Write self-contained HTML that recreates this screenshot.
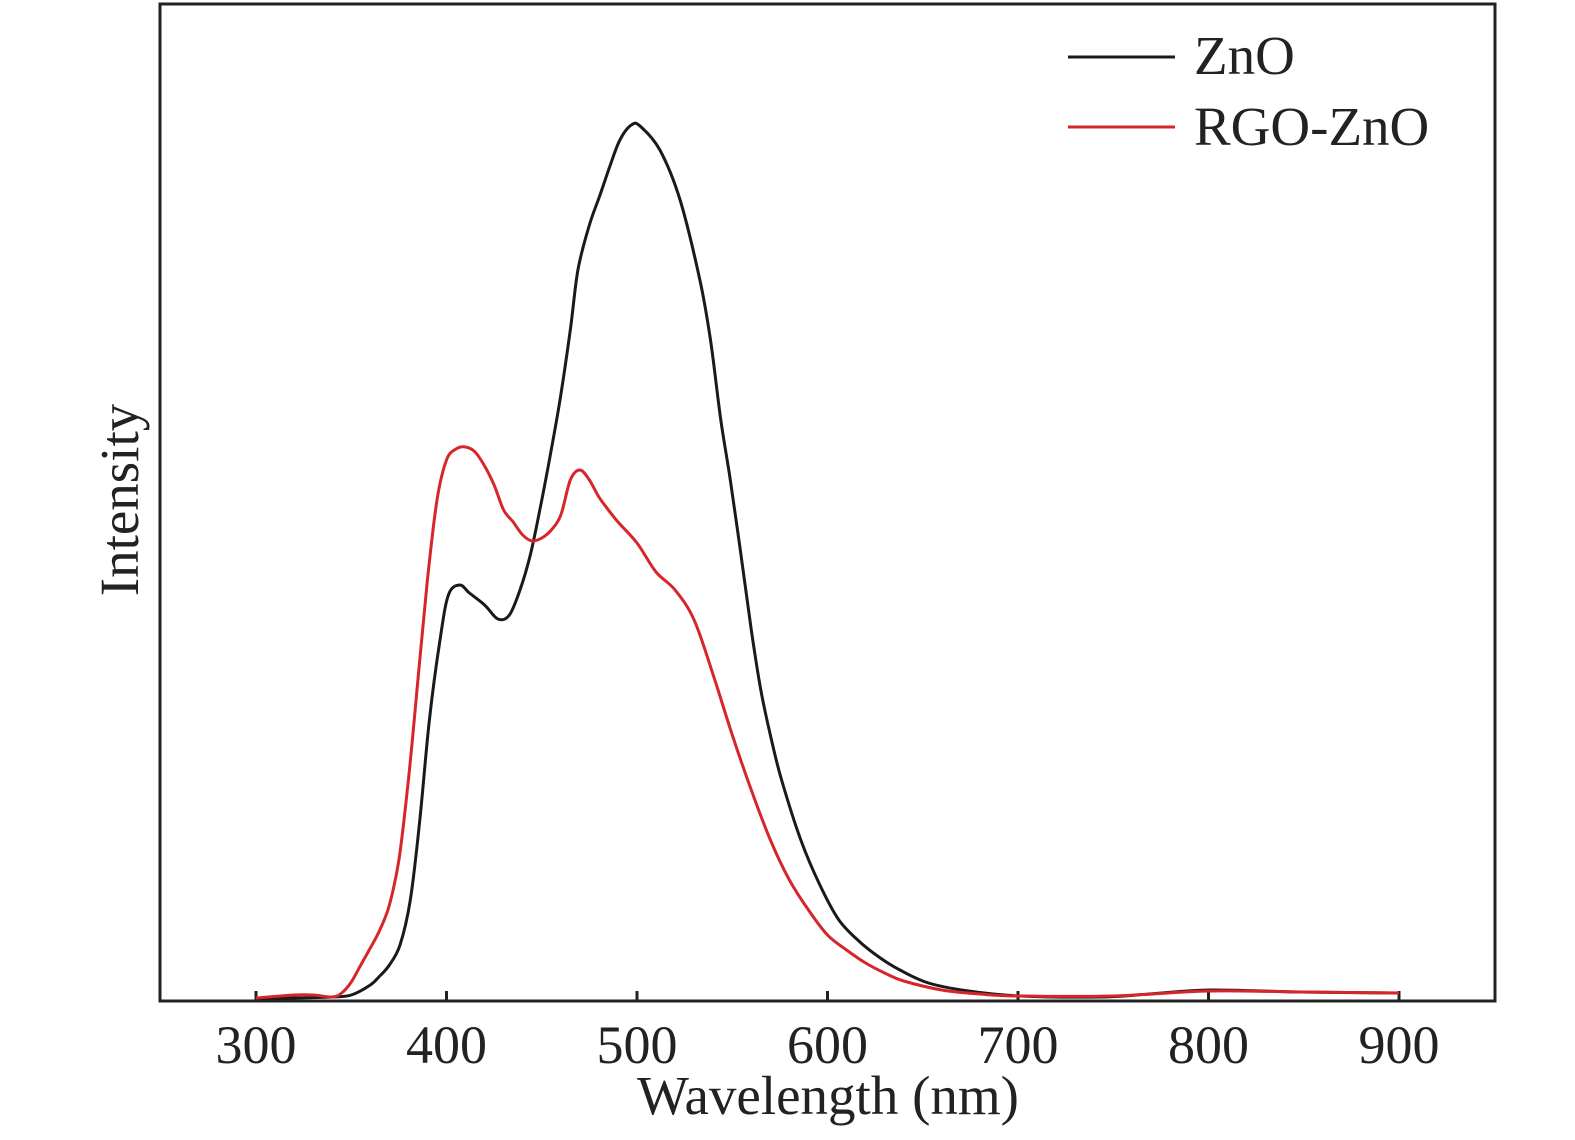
<!DOCTYPE html>
<html><head><meta charset="utf-8"><style>
html,body{margin:0;padding:0;background:#fff;}
svg{display:block;font-family:"Liberation Serif",serif;}
</style></head><body>
<svg id="chart" width="1575" height="1140" viewBox="0 0 1575 1140" xmlns="http://www.w3.org/2000/svg">
<rect x="160" y="4" width="1335" height="997" fill="none" stroke="#222" stroke-width="3"/>
<g id="ticks"></g>
<g id="series"></g>
<text x="828" y="1114" font-size="55" text-anchor="middle" fill="#222">Wavelength (nm)</text>
<text transform="translate(138,500) rotate(-90)" font-size="55" text-anchor="middle" fill="#222">Intensity</text>
<g>
<line x1="1068" y1="57" x2="1175" y2="57" stroke="#1a1a1a" stroke-width="3"/>
<text x="1194" y="74" font-size="55" fill="#222">ZnO</text>
<line x1="1068" y1="127" x2="1175" y2="127" stroke="#d7262b" stroke-width="3"/>
<text x="1194" y="145" font-size="55" fill="#222">RGO-ZnO</text>
</g>
</svg>
<script>
const xTicks=[300,400,500,600,700,800,900];
const znoWl=[300,320,340,350,360,365,370,375.6,381,386,391,396.6,401,407,412,420,427,433,438.6,444,449,454,459.6,465,469,475,480.6,486,491,497,501.6,512,522.6,533,538.6,544,549,554.6,560,565,570.6,575.9,586,596,606,617,627,638,653,674,701,743,769,801,848,900];
const znoVal=[0,0,0.1,0.3,1.3,2.2,3.3,5.3,9.8,17.8,27.8,35.8,40.3,41.3,40.5,39.3,37.9,38.3,40.8,44.3,48.8,53.8,59.8,66.8,72.8,77.3,80.3,83.3,85.8,87.3,87.2,84.8,79.8,71.8,65.8,57.8,51.8,44.3,36.8,30.8,25.8,21.8,15.8,11.3,7.8,5.6,4.1,2.8,1.5,0.7,0.2,0.1,0.4,0.8,0.6,0.5];
const rgoWl=[300,320,330,340,345,350,355,360,365,370,375,380,385,390,395,400,405,410,415,420,425,430,435,440,445,450,455,460,465,470,475,480,485,490,500,510,520,530,540,550,560,570,580,590,600,610,620,630,640,660,680,700,750,800,850,900];
const rgoVal=[0,0.3,0.3,0.1,0.5,1.6,3.3,5.0,6.8,9.3,13.8,21.8,31.8,41.8,49.8,53.8,54.9,55.1,54.6,53.2,51.3,48.8,47.6,46.3,45.7,46.0,46.8,48.3,51.8,52.8,51.8,50.1,48.8,47.6,45.5,42.6,40.8,37.8,32.3,26.3,20.8,15.8,11.8,8.8,6.3,4.8,3.5,2.5,1.7,0.8,0.4,0.2,0.2,0.7,0.6,0.5];
const X=w=>256+(w-300)*(1399-256)/600;
const Y=v=>998-v*10;
const NS='http://www.w3.org/2000/svg';
const tg=document.getElementById('ticks');
xTicks.forEach(t=>{
  const l=document.createElementNS(NS,'line');
  
  
  l.setAttribute('x1',X(t));l.setAttribute('x2',X(t));
  l.setAttribute('y1',1000);l.setAttribute('y2',991);
  l.setAttribute('stroke','#222');l.setAttribute('stroke-width','3');
  tg.appendChild(l);
  const tx=document.createElementNS(NS,'text');
  
  
  tx.setAttribute('x',X(t));tx.setAttribute('y',1063);
  tx.setAttribute('font-size','54');tx.setAttribute('text-anchor','middle');tx.setAttribute('fill','#222');
  tx.textContent=t;
  tg.appendChild(tx);
});
const sg=document.getElementById('series');
function draw(wl,val,color,name){
  const pts=wl.map((w,i)=>[X(w),Y(val[i])]);
  let d='M'+pts[0][0].toFixed(1)+','+pts[0][1].toFixed(1);
  for(let i=0;i<pts.length-1;i++){
    const p0=pts[Math.max(0,i-1)],p1=pts[i],p2=pts[i+1],p3=pts[Math.min(pts.length-1,i+2)];
    const c1x=p1[0]+(p2[0]-p0[0])/6,c1y=p1[1]+(p2[1]-p0[1])/6;
    const c2x=p2[0]-(p3[0]-p1[0])/6,c2y=p2[1]-(p3[1]-p1[1])/6;
    d+=' C'+c1x.toFixed(1)+','+c1y.toFixed(1)+' '+c2x.toFixed(1)+','+c2y.toFixed(1)+' '+p2[0].toFixed(1)+','+p2[1].toFixed(1);
  }
  const p=document.createElementNS(NS,'path');
  
  
  p.setAttribute('d',d);
  p.setAttribute('fill','none');p.setAttribute('stroke',color);
  p.setAttribute('stroke-width','3');p.setAttribute('stroke-linejoin','round');
  sg.appendChild(p);
}
draw(znoWl,znoVal,'#1a1a1a','zno-line');
draw(rgoWl,rgoVal,'#d7262b','rgo-zno-line');
</script>
</body></html>
